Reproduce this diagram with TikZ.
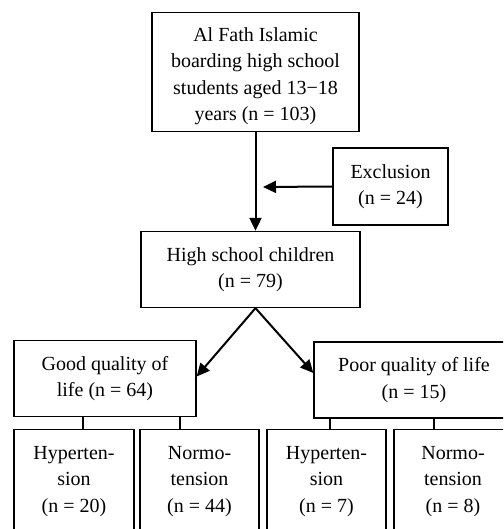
\documentclass[tikz,border=0pt]{standalone}
\usepackage{fontspec}
\setmainfont{Liberation Serif}
\usetikzlibrary{arrows.meta,positioning,calc}
\begin{document}
\begin{tikzpicture}[x=1pt,y=-1pt,
  txt/.style={font=\fontsize{20}{26.5}\selectfont, align=center},
  box/.style={txt, draw, line width=1.3pt, inner sep=0pt},
  leaf/.style={draw, line width=1.3pt, inner sep=0pt, minimum height=130pt},
  arr/.style={line width=2pt, -{Triangle[length=13pt,width=12pt]}},
  con/.style={line width=1.2pt}]
\useasboundingbox (0,0) rectangle (503,529);
\clip (0,0) rectangle (503,529);
\node[box, minimum width=207pt, minimum height=119pt] (top) at (255.5,72) {};
\node[txt, inner sep=0pt] (topt) at ($(top.center)+(0,4)$)
  {Al Fath Islamic\\boarding high school\\students aged 13−18\\years (n = 103)};
\node[box, minimum width=115pt, minimum height=77pt] (excl) at (390.5,186.5)
  {Exclusion\\(n = 24)};
\node[box, minimum width=219pt, minimum height=76pt] (hs) at (250.5,269.5)
  {High school children\\(n = 79)};
\node[box, minimum width=182pt, minimum height=76pt] (good) at (105,378.5)
  {Good quality of\\life (n = 64)};
\node[box, minimum width=200pt, minimum height=76pt] (poor) at (414,380)
  {Poor quality of life\\(n = 15)};
% leaf boxes (bottom runs off the page)
\node[leaf, minimum width=120pt, anchor=north] (h1) at (74,429) {};
\node[leaf, minimum width=119pt, anchor=north] (n1) at (199.5,429) {};
\node[leaf, minimum width=119pt, anchor=north] (h2) at (326.5,429) {};
\node[leaf, minimum width=118pt, anchor=north] (n2) at (453,429) {};
\node[txt, anchor=north, inner sep=0pt] (h1t) at ($(h1.north)+(0,17)$) {Hyperten-\\sion\\(n = 20)};
\node[txt, anchor=north, inner sep=0pt] (n1t) at ($(n1.north)+(0,17)$) {Normo-\\tension\\(n = 44)};
\node[txt, anchor=north, inner sep=0pt] (h2t) at ($(h2.north)+(0,17)$) {Hyperten-\\sion\\(n = 7)};
\node[txt, anchor=north, inner sep=0pt] (n2t) at ($(n2.north)+(0,17)$) {Normo-\\tension\\(n = 8)};
% arrows
\coordinate (apex) at (top.south |- hs.south);
\coordinate (exend) at (263,187);
\draw[arr] (top.south) -- (top.south |- hs.north);
\draw[arr] (excl.west) -- (exend);
\draw[arr] (apex) -- ($(good.east)+(0,-2)$);
\draw[arr] (apex) -- ($(poor.west)+(0,-7)$);
% connectors
\draw[con] (83,0 |- good.south) -- (83,0 |- h1.north);
\draw[con] (180,0 |- good.south) -- (180,0 |- n1.north);
\draw[con] (330,0 |- poor.south) -- (330,0 |- h2.north);
\draw[con] (434,0 |- poor.south) -- (434,0 |- n2.north);
\end{tikzpicture}
\end{document}
